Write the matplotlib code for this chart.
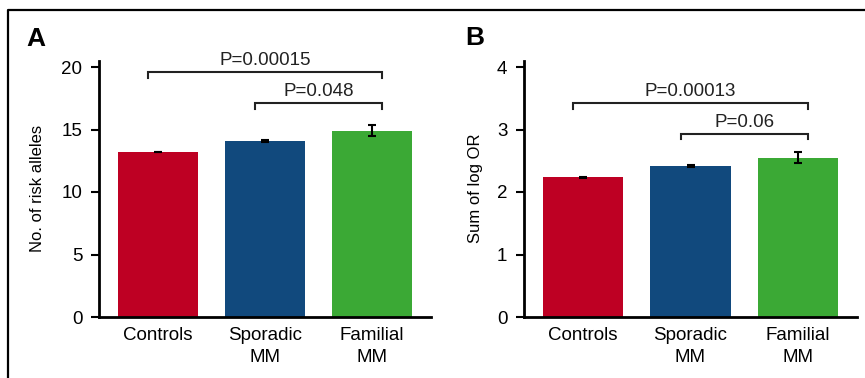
import matplotlib
matplotlib.use("Agg")
import matplotlib.pyplot as plt
from matplotlib.lines import Line2D
from matplotlib import font_manager

names = {f.name for f in font_manager.fontManager.ttflist}
narrow = 'Liberation Sans Narrow' if 'Liberation Sans Narrow' in names else 'Liberation Sans'
plt.rcParams['font.family'] = ['Liberation Sans', 'DejaVu Sans']

categories = ["Controls", "Sporadic\nMM", "Familial\nMM"]
colors = ["#BE0023", "#11497D", "#3BA935"]

risk_alleles = [13.2, 14.1, 14.9]
risk_err = [0.03, 0.08, 0.45]
sum_log_or = [2.24, 2.42, 2.55]
sum_err = [0.008, 0.012, 0.085]

pA = ["P=0.00015", "P=0.048"]
pB = ["P=0.00013", "P=0.06"]

FS = 13.5
fig = plt.figure(figsize=(8.65, 3.78), dpi=100)

def panel(rect, vals, errs, ylim, yticks, ylabel, letter, pvals, br_outer, br_inner, tip, letter_pos, ylab_x):
    ax = fig.add_axes(rect)
    x = list(range(len(vals)))
    ax.bar(x, vals, width=0.748, color=colors, zorder=2)
    ax.errorbar(x, vals, yerr=errs, fmt='none', ecolor='black', elinewidth=1.5,
                capsize=3, capthick=1.5, zorder=3)
    ax.set_xlim(-0.552, 2.552)
    ax.set_ylim(*ylim)
    ax.set_yticks(yticks)
    ax.set_xticks(x)
    ax.set_xticklabels(categories, fontsize=FS, linespacing=1.4)
    ax.tick_params(axis='x', length=0, pad=7)
    ax.tick_params(axis='y', length=6, width=1.5, direction='out', labelsize=FS, pad=6)
    for s in ['top', 'right']:
        ax.spines[s].set_visible(False)
    for s in ['left', 'bottom']:
        ax.spines[s].set_linewidth(2)
    ax.set_ylabel(ylabel, fontsize=12, family=[narrow, 'DejaVu Sans'], va='center')
    ax.yaxis.set_label_coords(ylab_x, 1 - 188/378, transform=fig.transFigure)
    # brackets
    d = 0.093
    for (i0, i1), yb, ptxt in zip([(0, 2), (1, 2)], [br_outer, br_inner], pvals):
        ax.plot([i0 - d, i0 - d, i1 + d, i1 + d], [yb - tip, yb, yb, yb - tip],
                color='#222222', lw=1.5, zorder=3, clip_on=False, solid_joinstyle='miter')
        ax.text((i0 + i1) / 2, yb + tip * 0.55, ptxt,
                ha='center', va='bottom', fontsize=FS, color='#222222')
    fig.text(letter_pos[0], letter_pos[1], letter, fontsize=19, fontweight='bold',
             ha='left', va='center', family=['Liberation Sans', 'DejaVu Sans'])
    return ax

panel([99/865, 1 - 317/378, 332/865, 256/378], risk_alleles, risk_err, (0, 20.48),
      [0, 5, 10, 15, 20], "No. of risk alleles", "A", pA, 19.6, 17.1, 0.45,
      (26/865, 1 - 39/378), 38/865)
panel([524/865, 1 - 317/378, 333/865, 256/378], sum_log_or, sum_err, (0, 4.096),
      [0, 1, 2, 3, 4], "Sum of log OR", "B", pB, 3.42, 2.93, 0.09,
      (465/865, 1 - 38/378), 476/865)

# outer frame (top and left)
fig.add_artist(Line2D([8/865, 8/865, 1.0], [0.0, 1 - 10/378, 1 - 10/378],
                      transform=fig.transFigure, color='black', lw=1.6))

fig.savefig("out.png", dpi=100)
